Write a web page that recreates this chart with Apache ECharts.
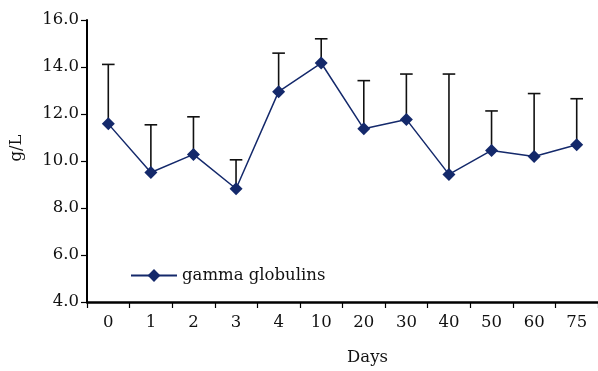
<!DOCTYPE html>
<html><head><meta charset="utf-8">
<script src="https://cdn.jsdelivr.net/npm/echarts@6/dist/echarts.min.js"></script>
<style>html,body{margin:0;padding:0;background:#fff}#c{width:598px;height:371px}</style>
</head><body><div id="c"></div>
<script>
var categories = ['0','1','2','3','4','10','20','30','40','50','60','75'];
var means = [11.58, 9.51, 10.28, 8.82, 12.95, 14.17, 11.37, 11.77, 9.43, 10.45, 10.19, 10.69];
var sds = [2.53, 2.03, 1.60, 1.23, 1.64, 1.03, 2.05, 1.93, 4.27, 1.68, 2.68, 1.96];
var yTicks = [4, 16, 2];

var FONT = 'DejaVu Serif';
var FS = 16.5;
var navy = '#14296b';
var errData = categories.map(function(c, i){ return [i, means[i], means[i] + sds[i]]; });

var chart = echarts.init(document.getElementById('c'));
chart.setOption({
  animation: false,
  textStyle: {fontFamily: FONT, color: '#111'},
  grid: {left: 85, top: 20, width: 513, height: 291, containLabel: false},
  legend: {
    left: 125, top: 262, itemWidth: 46, itemHeight: 16, itemGap: 6,
    textStyle: {fontFamily: FONT, fontSize: FS, color: '#111'},
    data: ['gamma globulins']
  },
  xAxis: {
    type: 'category', data: categories, boundaryGap: true,
    name: 'Days', nameLocation: 'middle', nameGap: 47,
    nameTextStyle: {fontFamily: FONT, fontSize: FS, color: '#111', padding: [0, 0, 0, 50]},
    axisLine: {lineStyle: {color: '#000', width: 2.5}},
    axisTick: {show: true, length: 6, lineStyle: {color: '#000', width: 1.2}},
    axisLabel: {fontFamily: FONT, fontSize: FS, color: '#111', margin: 12}
  },
  yAxis: {
    type: 'value', min: yTicks[0], max: yTicks[1], interval: yTicks[2],
    name: 'g/L', nameLocation: 'middle', nameGap: 62, nameRotate: 90,
    nameTextStyle: {fontFamily: FONT, fontSize: FS, color: '#111', padding: [0, 0, 0, 26]},
    axisLine: {show: true, lineStyle: {color: '#000', width: 2}},
    axisTick: {show: true, length: 6, lineStyle: {color: '#000', width: 1.2}},
    splitLine: {show: false},
    axisLabel: {fontFamily: FONT, fontSize: FS, color: '#111', margin: 8,
      formatter: function(v){ return v.toFixed(1); }}
  },
  series: [
    {
      type: 'custom', name: 'err', z: 1,
      data: errData,
      renderItem: function(params, api){
        var x = api.value(0);
        var p0 = api.coord([x, api.value(1)]);
        var p1 = api.coord([x, api.value(2)]);
        var hw = 6.3;
        return {type: 'group', children: [
          {type: 'line', shape: {x1: p0[0], y1: p0[1], x2: p1[0], y2: p1[1]}, style: {stroke: '#111', lineWidth: 1.6}},
          {type: 'line', shape: {x1: p1[0]-hw, y1: p1[1], x2: p1[0]+hw, y2: p1[1]}, style: {stroke: '#111', lineWidth: 1.6}}
        ]};
      }
    },
    {
      type: 'line', name: 'gamma globulins', z: 3,
      data: means,
      symbol: 'diamond', symbolSize: 13,
      lineStyle: {color: navy, width: 1.5},
      itemStyle: {color: navy}
    }
  ]
});
</script></body></html>
